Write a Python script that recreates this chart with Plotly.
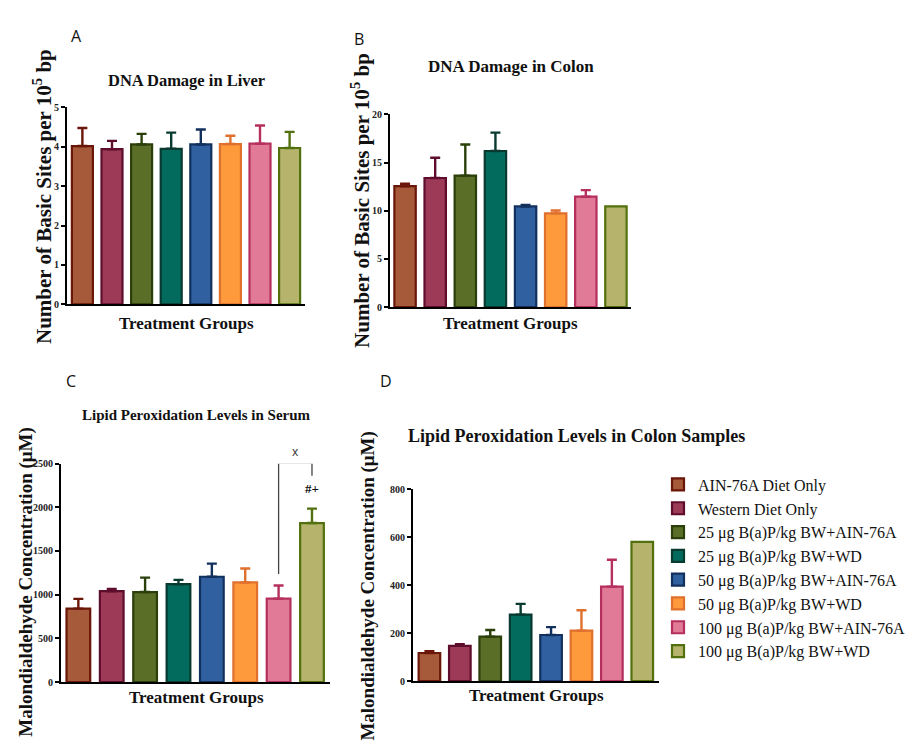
import plotly.graph_objects as go

# ---------------- data ----------------
groups = ["AIN-76A Diet Only", "Western Diet Only", "25 μg B(a)P/kg BW+AIN-76A",
          "25 μg B(a)P/kg BW+WD", "50 μg B(a)P/kg BW+AIN-76A", "50 μg B(a)P/kg BW+WD",
          "100 μg B(a)P/kg BW+AIN-76A", "100 μg B(a)P/kg BW+WD"]

fill_colors = ["#A65A3A", "#9C3A58", "#5B6E28", "#036B5D", "#3060A0", "#FF9A3C", "#E07A96", "#B6B46C"]
line_colors = ["#6A1608", "#5E0E2C", "#2A3F0A", "#083A30", "#12305E", "#E0702E", "#B5305E", "#52700E"]

liver_mean = [4.02, 3.94, 4.06, 3.95, 4.06, 4.07, 4.08, 3.97]
liver_err = [0.46, 0.21, 0.27, 0.41, 0.38, 0.21, 0.46, 0.41]

colon_mean = [12.55, 13.4, 13.64, 16.2, 10.45, 9.73, 11.46, 10.45]
colon_err = [0.25, 2.1, 3.23, 1.9, 0.15, 0.3, 0.68, 0.0]

serum_mean = [840, 1040, 1030, 1120, 1205, 1140, 955, 1820]
serum_err = [112, 25, 165, 50, 151, 160, 150, 165]

colon_lp_mean = [117, 147, 185, 277, 192, 210, 394, 580]
colon_lp_err = [8, 7, 28, 45, 33, 85, 112, 0]

# significance bracket (panel C): between group 7 and group 8
bracket_left_bottom = 1236
bracket_top = 2510
bracket_right_bottom = 2360
bracket_label = "x"
sig_label = "#+"
sig_label_y = 2210

W, H = 915, 744
SERIF = "Liberation Serif"
SANS = "Open Sans"

fig = go.Figure()

panels = [
    # (xaxis, yaxis, means, errs, x_dom_px, y_dom_px, yrange, dtick, xrange, showlegend)
    ("x", "y", liver_mean, liver_err, (59, 297), (95, 295), [0, 5], 1, [-0.52, 7.52], False),
    ("x2", "y2", colon_mean, colon_err, (382, 623), (102, 298), [0, 20], 5, [-0.5, 7.5], False),
    ("x3", "y3", serum_mean, serum_err, (53, 322), (457, 679), [0, 2500], 500, [-0.52, 7.54], False),
    ("x4", "y4", colon_lp_mean, colon_lp_err, (405, 651), (483, 678), [0, 800], 200, [-0.54, 7.55], True),
]

layout_axes = {}
for (xa, ya, means, errs, xd, yd, yr, dt, xr, sl) in panels:
    for i, g in enumerate(groups):
        fig.add_trace(go.Bar(
            x=[i], y=[means[i]], name=g, xaxis=xa, yaxis=ya, width=0.71,
            marker=dict(color=fill_colors[i], line=dict(color=line_colors[i], width=2.2)),
            error_y=dict(type="data", symmetric=False, array=[errs[i]], arrayminus=[0],
                         color=line_colors[i], thickness=2.4, width=5, visible=errs[i] > 0),
            showlegend=sl, legendgroup=g, hoverinfo="y+name",
        ))
    xkey = "xaxis" + xa[1:]
    ykey = "yaxis" + ya[1:]
    layout_axes[xkey] = dict(
        domain=[xd[0] / W, xd[1] / W], range=xr, anchor=ya,
        showticklabels=False, ticks="", showgrid=False, zeroline=False,
        showline=True, linecolor="black", linewidth=2.4, fixedrange=True,
    )
    layout_axes[ykey] = dict(
        domain=[1 - yd[1] / H, 1 - yd[0] / H], range=yr, dtick=dt, anchor=xa,
        showgrid=False, zeroline=False, showline=True, linecolor="black", linewidth=2.2,
        ticks="outside", ticklen=4, tickwidth=1.5, tickcolor="black",
        tickfont=dict(family=SERIF, size=10, color="#222", weight="bold"),
        fixedrange=True,
    )

fig.update_layout(**layout_axes)

ann = []

def px_ann(text, x, y, size, family=SERIF, angle=0, color="#111", bold=False):
    ann.append(dict(text=text, x=x / W, y=1 - y / H, xref="paper", yref="paper",
                    showarrow=False, textangle=angle, xanchor="center", yanchor="middle",
                    font=dict(family=family, size=size, color=color,
                              weight="bold" if bold else "normal")))

# panel letters
px_ann("A", 68, 22, 16, SANS)
px_ann("B", 351, 25, 16, SANS)
px_ann("C", 63, 373, 16, SANS)
px_ann("D", 378, 373, 16, SANS)

# titles
px_ann("DNA Damage in Liver", 178, 68, 16.5, bold=True)
px_ann("DNA Damage in Colon", 503, 53, 17, bold=True)
px_ann("Lipid Peroxidation Levels in Serum", 188, 408, 15, bold=True)
px_ann("Lipid Peroxidation Levels in Colon Samples", 568, 429, 18, bold=True)

# x-axis titles
px_ann("Treatment Groups", 178, 315, 17, bold=True)
px_ann("Treatment Groups", 502, 315, 17, bold=True)
px_ann("Treatment Groups", 188, 695, 17, bold=True)
px_ann("Treatment Groups", 528, 693, 17, bold=True)

# y-axis titles
px_ann("Number of Basic Sites per 10<sup>5</sup> bp", 34, 186, 21, angle=-90, bold=True)
px_ann("Number of Basic Sites per 10<sup>5</sup> bp", 353, 190, 21, angle=-90, bold=True)
px_ann("Malondialdehyde Concentration (μM)", 18, 578, 19, angle=-90, bold=True)
px_ann("Malondialdehyde Concentration (μM)", 360, 582, 19, angle=-90, bold=True)

# significance marks panel C
px_ann(bracket_label, 287, 445, 12, SANS, color="#333")
ann.append(dict(text=sig_label, x=7, y=sig_label_y, xref="x3", yref="y3", showarrow=False,
                font=dict(family=SERIF, size=13, color="#111", weight="bold")))

fig.update_layout(annotations=ann)

fig.add_shape(type="path", xref="x3", yref="y3",
              path=f"M 6,{bracket_left_bottom} L 6,{bracket_top} L 7,{bracket_top} L 7,{bracket_right_bottom}",
              line=dict(color="#444", width=1.3))

fig.update_layout(
    width=W, height=H, margin=dict(l=0, r=0, t=0, b=0),
    paper_bgcolor="white", plot_bgcolor="white",
    barmode="overlay", showlegend=True,
    legend=dict(x=650 / W, y=1 - 461 / H, xanchor="left", yanchor="top",
                font=dict(family=SERIF, size=16, color="#111"),
                itemwidth=30, tracegroupgap=0, bgcolor="rgba(0,0,0,0)", itemclick=False),
)

fig.write_html("out.html")
